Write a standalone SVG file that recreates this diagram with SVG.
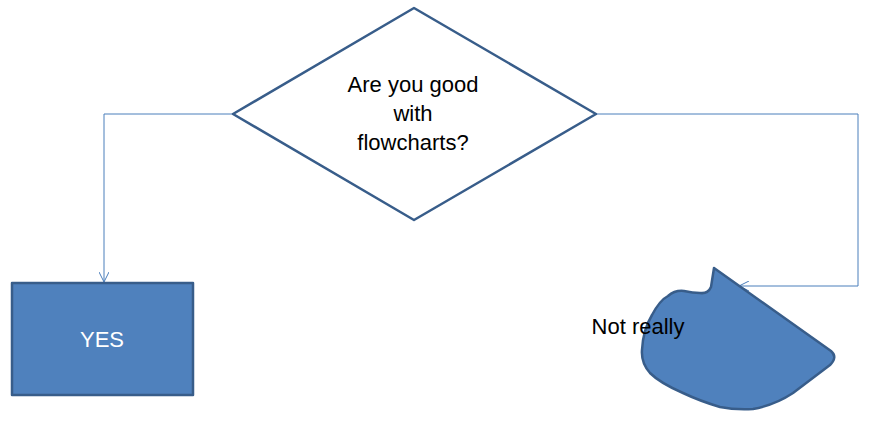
<svg xmlns="http://www.w3.org/2000/svg" width="880" height="440" viewBox="0 0 880 440">
<style>
.node{stroke:#385D8A;stroke-width:2.5;stroke-linejoin:round}
.conn{fill:none;stroke:#4A7EBB;stroke-width:1}
.t{font-family:"Liberation Sans",Arial,sans-serif;font-size:22px;text-anchor:middle}
</style>
<defs>
<marker id="arr" viewBox="0 0 10 10" refX="10" refY="5" markerWidth="10" markerHeight="10" markerUnits="userSpaceOnUse" orient="auto">
<path d="M0,0 L10,5 L0,10" fill="none" stroke="#4A7EBB" stroke-width="1"/>
</marker>
</defs>
<rect width="880" height="440" fill="#fff"/>
<g id="connectors">
<path class="conn" d="M233,114 H104 V282" marker-end="url(#arr)"/>
<path class="conn" d="M596,114 H858 V286 H739" marker-end="url(#arr)"/>
</g>
<g id="decision">
<polygon class="node" points="414,8 596,114 414,220 233,114" fill="#fff"/>
<text class="t" x="413" y="92" fill="#000">Are you good</text>
<text class="t" x="413" y="121" fill="#000">with</text>
<text class="t" x="413" y="150" fill="#000">flowcharts?</text>
</g>
<g id="yes">
<rect class="node" x="12" y="283" width="181" height="112" fill="#4F81BD"/>
<text class="t" x="102" y="347" fill="#fff">YES</text>
</g>
<g id="notreally">
<path class="node" fill="#4F81BD" d="M714,268 L831,351 Q838,357 830,365 L793,393 Q775,405 753,409 Q735,410 720,407 Q700,401 683,393 Q660,383 650,373 Q641,363 642,350 Q643,330 652,315 Q660,300 668,296 Q675,290 684,291 Q693,293 700,293 Q708,294 711,287 Z"/>
<text class="t" x="638" y="334" fill="#000">Not really</text>
</g>
</svg>
